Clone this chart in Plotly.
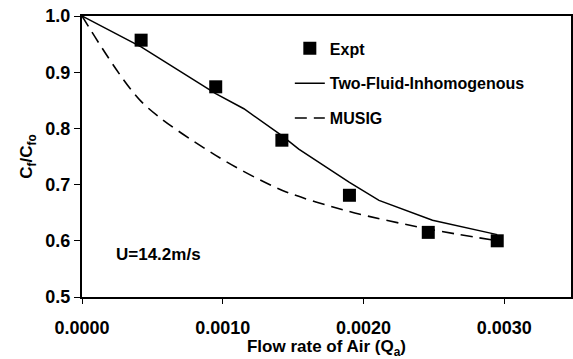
import plotly.graph_objects as go

# Experimental data
expt_x = [0.00042, 0.00095, 0.00142, 0.00190, 0.00246, 0.00295]
expt_y = [0.957, 0.874, 0.779, 0.681, 0.615, 0.600]

# Two-Fluid-Inhomogenous model
tf_x = [0.0, 0.00042, 0.00095, 0.00115, 0.00142, 0.00154, 0.00177, 0.00190, 0.00211, 0.00249, 0.00295]
tf_y = [1.0, 0.945, 0.862, 0.835, 0.787, 0.763, 0.7255, 0.704, 0.672, 0.6365, 0.611]

# MUSIG model
mu_x = [0.0, 0.00042, 0.00095, 0.00142, 0.00190, 0.00246, 0.00295]
mu_y = [1.0, 0.848, 0.752, 0.690, 0.652, 0.621, 0.600]

x_ticks = [0.0, 0.001, 0.002, 0.003]
x_tick_text = ["0.0000", "0.0010", "0.0020", "0.0030"]
y_ticks = [0.5, 0.6, 0.7, 0.8, 0.9, 1.0]
y_tick_text = ["0.5", "0.6", "0.7", "0.8", "0.9", "1.0"]

FONT = "Liberation Sans, Arial, sans-serif"

fig = go.Figure()
fig.add_trace(go.Scatter(
    x=expt_x, y=expt_y, mode="markers", name="<b>Expt</b>",
    marker=dict(symbol="square", size=13, color="black"),
    legendgroup="a"))
fig.add_trace(go.Scatter(
    x=tf_x, y=tf_y, mode="lines", name="<b>Two-Fluid-Inhomogenous</b>",
    line=dict(color="black", width=1.5), legendgroup="b"))
fig.add_trace(go.Scatter(
    x=mu_x, y=mu_y, mode="lines", name="<b>MUSIG</b>",
    line=dict(color="black", width=1.6, dash="12px,7px", shape="spline", smoothing=0.8),
    legendgroup="c"))

fig.add_annotation(
    x=0.065, y=0.153, xref="paper", yref="paper", xanchor="left", yanchor="middle",
    text="<b>U=14.2m/s</b>", showarrow=False,
    font=dict(family=FONT, size=17, color="black"))

fig.update_layout(
    width=573, height=359,
    margin=dict(l=82, r=0, t=16, b=62),
    paper_bgcolor="white", plot_bgcolor="white",
    font=dict(family=FONT, color="black"),
    showlegend=True,
    legend=dict(x=0.425, y=0.945, xanchor="left", yanchor="top",
                bgcolor="rgba(0,0,0,0)", tracegroupgap=11,
                font=dict(family=FONT, size=16, color="black")),
    xaxis=dict(range=[0, 0.003474], tickvals=x_ticks,
               ticktext=[f"<b>{t}</b>" for t in x_tick_text],
               showgrid=False, zeroline=False, showline=True, linecolor="black",
               linewidth=2, mirror=True, ticks="outside", ticklen=5, tickcolor="black",
               ticklabelstandoff=8,
               tickfont=dict(family=FONT, size=18, color="black"),
               title=dict(text="<b>Flow rate of Air (Q<sub>a</sub>)</b>", standoff=6,
                          font=dict(family=FONT, size=17, color="black"))),
    yaxis=dict(range=[0.5, 1.0], tickvals=y_ticks,
               ticktext=[f"<b>{t}</b>" for t in y_tick_text],
               showgrid=False, zeroline=False, showline=True, linecolor="black",
               linewidth=2, mirror=True, ticks="outside", ticklen=6, tickcolor="black",
               tickfont=dict(family=FONT, size=18, color="black"),
               title=dict(text="<b>C<sub>f</sub>/C<sub>fo</sub></b>", standoff=8,
                          font=dict(family=FONT, size=17, color="black"))),
)

fig.write_html("out.html", config={"displayModeBar": False},
               post_script="document.body.style.margin='0px';")
